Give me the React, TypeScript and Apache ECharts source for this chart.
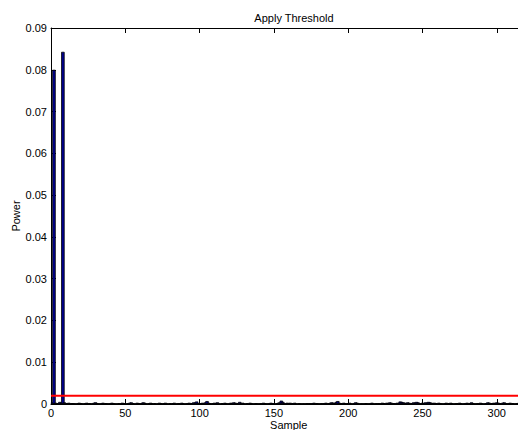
import React, { useEffect, useRef } from "react";
import * as echarts from "echarts";

const titleText = "Apply Threshold";
const xName = "Sample";
const yName = "Power";
const threshold = 0.002;
const xMin = 0;
const xMax = 320;
const yMin = 0;
const yMax = 0.09;

// power for samples 1..318
const power: number[] = [
  0.0004, 0.0800, 0.0003, 0.0001, 0.0002, 0.0005, 0.0003, 0.0843, 0.0004, 0.0001, 0.0002, 0.0003, 0.0001, 0.0002, 0.0002, 0.0001, 0.0000, 0.0002, 0.0003, 0.0002,
  0.0001, 0.0000, 0.0002, 0.0003, 0.0001, 0.0002, 0.0000, 0.0001, 0.0003, 0.0004, 0.0002, 0.0001, 0.0000, 0.0002, 0.0003, 0.0001, 0.0002, 0.0001, 0.0000, 0.0002,
  0.0003, 0.0002, 0.0001, 0.0000, 0.0001, 0.0002, 0.0001, 0.0003, 0.0002, 0.0001, 0.0000, 0.0002, 0.0003, 0.0004, 0.0002, 0.0001, 0.0000, 0.0003, 0.0002, 0.0001,
  0.0002, 0.0004, 0.0003, 0.0001, 0.0000, 0.0002, 0.0003, 0.0002, 0.0001, 0.0002, 0.0000, 0.0001, 0.0003, 0.0002, 0.0001, 0.0002, 0.0003, 0.0001, 0.0000, 0.0002,
  0.0001, 0.0002, 0.0003, 0.0000, 0.0001, 0.0002, 0.0001, 0.0003, 0.0002, 0.0000, 0.0001, 0.0002, 0.0003, 0.0001, 0.0002, 0.0004, 0.0003, 0.0006, 0.0002, 0.0001,
  0.0002, 0.0003, 0.0001, 0.0004, 0.0007, 0.0003, 0.0002, 0.0001, 0.0002, 0.0003, 0.0002, 0.0004, 0.0001, 0.0000, 0.0002, 0.0001, 0.0003, 0.0002, 0.0000, 0.0001,
  0.0003, 0.0002, 0.0004, 0.0003, 0.0001, 0.0002, 0.0005, 0.0002, 0.0003, 0.0001, 0.0000, 0.0002, 0.0001, 0.0003, 0.0002, 0.0000, 0.0001, 0.0002, 0.0001, 0.0000,
  0.0002, 0.0001, 0.0003, 0.0002, 0.0001, 0.0000, 0.0002, 0.0003, 0.0002, 0.0001, 0.0000, 0.0002, 0.0003, 0.0004, 0.0008, 0.0005, 0.0002, 0.0001, 0.0003, 0.0002,
  0.0003, 0.0001, 0.0002, 0.0003, 0.0001, 0.0000, 0.0002, 0.0001, 0.0000, 0.0001, 0.0000, 0.0002, 0.0001, 0.0002, 0.0001, 0.0002, 0.0003, 0.0001, 0.0002, 0.0001,
  0.0000, 0.0002, 0.0001, 0.0002, 0.0003, 0.0001, 0.0002, 0.0003, 0.0004, 0.0003, 0.0002, 0.0005, 0.0007, 0.0003, 0.0002, 0.0001, 0.0003, 0.0002, 0.0001, 0.0002,
  0.0003, 0.0001, 0.0000, 0.0002, 0.0004, 0.0003, 0.0001, 0.0000, 0.0001, 0.0000, 0.0001, 0.0002, 0.0001, 0.0000, 0.0002, 0.0003, 0.0001, 0.0000, 0.0002, 0.0001,
  0.0002, 0.0001, 0.0003, 0.0002, 0.0001, 0.0003, 0.0002, 0.0004, 0.0003, 0.0001, 0.0002, 0.0001, 0.0003, 0.0002, 0.0006, 0.0005, 0.0004, 0.0003, 0.0002, 0.0004,
  0.0003, 0.0001, 0.0002, 0.0004, 0.0003, 0.0005, 0.0004, 0.0002, 0.0001, 0.0003, 0.0002, 0.0004, 0.0003, 0.0005, 0.0004, 0.0003, 0.0002, 0.0003, 0.0002, 0.0001,
  0.0003, 0.0002, 0.0001, 0.0000, 0.0002, 0.0003, 0.0001, 0.0002, 0.0003, 0.0002, 0.0000, 0.0001, 0.0002, 0.0001, 0.0003, 0.0002, 0.0000, 0.0001, 0.0002, 0.0003,
  0.0001, 0.0002, 0.0004, 0.0002, 0.0001, 0.0000, 0.0002, 0.0001, 0.0003, 0.0002, 0.0000, 0.0001, 0.0002, 0.0004, 0.0003, 0.0001, 0.0002, 0.0003, 0.0002, 0.0004,
  0.0003, 0.0002, 0.0001, 0.0003, 0.0004, 0.0002, 0.0001, 0.0002, 0.0003, 0.0001, 0.0002, 0.0000, 0.0001, 0.0002, 0.0003, 0.0002, 0.0001, 0.0002,
];

const samples: number[] = power.map((_, i) => i + 1);

const FONT = "'Liberation Sans', Arial, Helvetica, sans-serif";

export default function App() {
  const ref = useRef<HTMLDivElement>(null);

  useEffect(() => {
    if (!ref.current) return;
    const chart = echarts.init(ref.current, undefined, { renderer: "svg" });
    const axisLine = { show: true, lineStyle: { color: "#000", width: 1 } };
    chart.setOption({
      animation: false,
      backgroundColor: "#fff",
      textStyle: { fontFamily: FONT },
      title: {
        text: titleText,
        left: 289,
        textAlign: "center",
        top: 7,
        textStyle: { fontFamily: FONT, fontSize: 11, fontWeight: "normal", color: "#000" },
      },
      grid: {
        left: 51,
        top: 28,
        bottom: 26,
        right: -8.5,
        containLabel: false,
        outerBoundsMode: "none",
      },
      xAxis: [
        {
          type: "value",
          min: xMin,
          max: xMax,
          interval: 50,
          position: "bottom",
          name: xName,
          nameLocation: "middle",
          nameGap: 15,
          nameMoveOverlap: false,
          nameTextStyle: { fontFamily: FONT, fontSize: 11, lineHeight: 11, color: "#000" },
          axisLine,
          axisTick: { show: true, inside: true, length: 5, lineStyle: { color: "#000" } },
          axisLabel: {
            show: true,
            fontFamily: FONT,
            fontSize: 11,
            lineHeight: 11,
            color: "#000",
            margin: 3,
            showMaxLabel: false,
          },
          splitLine: { show: false },
        },
        {
          type: "value",
          min: xMin,
          max: xMax,
          interval: 50,
          position: "top",
          axisLine,
          axisTick: { show: true, inside: true, length: 5, lineStyle: { color: "#000" } },
          axisLabel: { show: false },
          splitLine: { show: false },
        },
      ],
      yAxis: {
        type: "value",
        min: yMin,
        max: yMax,
        interval: 0.01,
        name: yName,
        nameLocation: "middle",
        nameGap: 30,
        nameMoveOverlap: false,
        nameTextStyle: { fontFamily: FONT, fontSize: 11, color: "#000" },
        axisLine,
        axisTick: { show: true, inside: true, length: 5, lineStyle: { color: "#000" } },
        axisLabel: {
          fontFamily: FONT,
          fontSize: 11,
          color: "#000",
          margin: 4,
          formatter: (v: number) => (v === 0 ? "0" : v.toFixed(2)),
        },
        splitLine: { show: false },
      },
      series: [
        {
          type: "bar",
          xAxisIndex: 0,
          data: samples.map((s, i) => [s, power[i]]),
          barWidth: 3.5,
          itemStyle: { color: "#00008F", borderColor: "#000", borderWidth: 0.8 },
        },
        {
          type: "line",
          xAxisIndex: 0,
          data: [
            [xMin, threshold],
            [xMax, threshold],
          ],
          showSymbol: false,
          symbol: "none",
          silent: true,
          lineStyle: { color: "#FF0000", width: 2 },
          z: 5,
        },
      ],
    });
    return () => chart.dispose();
  }, []);

  return (
    <div
      ref={ref}
      style={{ position: "absolute", left: 0, top: 0, width: 518, height: 430 }}
    />
  );
}
